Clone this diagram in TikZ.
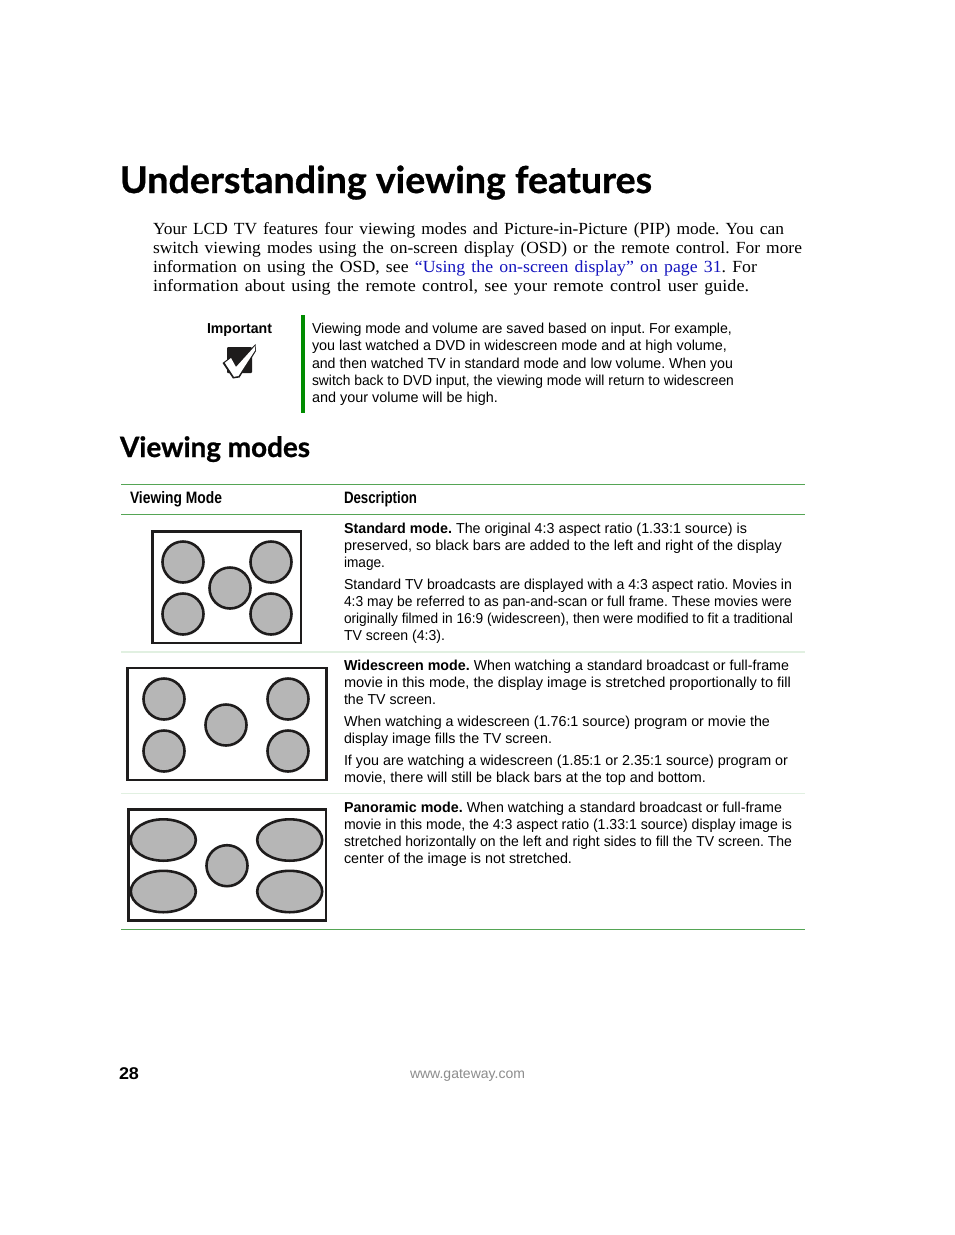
\documentclass[tikz,border=0pt]{standalone}
\usepackage{fontspec}
\usepackage{graphicx}
\setmainfont[WordSpace=1.4]{Liberation Serif}
\setsansfont{Liberation Sans}
\newfontfamily\titlefont[BoldFeatures={FakeBold=0.8}]{Lato}
\definecolor{linkblue}{RGB}{20,20,190}
\definecolor{rulegreen}{RGB}{85,165,85}
\definecolor{palegreen}{RGB}{225,240,225}
\definecolor{discgray}{RGB}{182,182,182}
\definecolor{inkblack}{RGB}{30,28,28}
\newcounter{lineno}
% \fitline[font]{x}{baseline}{right end}{text}
\newcommand{\fitline}[5][\bodyfont]{%
  \stepcounter{lineno}%
  \pgfmathsetmacro{\fitw}{#4-#2}%
  \node[txt] (line\arabic{lineno}) at (#2,#3) {#1\frenchspacing\resizebox{\fitw pt}{\height}{#5}};}
\newcommand{\bodyfont}{\sffamily\fontsize{14.4}{17}\selectfont}
\newcommand{\serfont}{\rmfamily\fontsize{17}{19}\selectfont}
\newcommand{\headfont}{\sffamily\bfseries\fontsize{16.5}{18}\selectfont}
\newcommand{\bsf}[1]{\textbf{#1}}
\tikzset{
  txt/.style={anchor=base west,inner sep=0pt,outer sep=0pt,text=black},
  frame/.style={draw=inkblack,line width=2.9pt,fill=white},
  disc/.style={draw=inkblack,line width=2.6pt,fill=discgray},
  headrule/.style={draw=rulegreen,line width=1pt},
  softrule/.style={draw=palegreen,line width=1.6pt}
}
\begin{document}
\begin{tikzpicture}[x=1pt,y=-1pt]
\useasboundingbox (0,0) rectangle (954,1235);
\fill[white] (0,0) rectangle (954,1235);
% headings
\fitline[\titlefont\bfseries\fontsize{37}{40}\selectfont]{120}{193}{652}{Understanding viewing features}
\fitline[\titlefont\bfseries\fontsize{28}{30}\selectfont]{120}{457}{310}{Viewing modes}
% intro
\fitline[\serfont]{153}{234}{784}{Your LCD TV features four viewing modes and Picture-in-Picture (PIP) mode. You can}
\fitline[\serfont]{153}{253}{802}{switch viewing modes using the on-screen display (OSD) or the remote control. For more}
\fitline[\serfont]{153}{272}{757}{information on using the OSD, see \textcolor{linkblue}{“Using the on-screen display” on page 31}. For}
\fitline[\serfont]{153}{291}{749}{information about using the remote control, see your remote control user guide.}
% important
\fitline{207}{333}{272}{\bsf{Important}}
\fill[green!55!black] (301,315) rectangle (305,413);
\fitline{312}{333}{732}{Viewing mode and volume are saved based on input. For example,}
\fitline{312}{350}{727}{you last watched a DVD in widescreen mode and at high volume,}
\fitline{312}{368}{733}{and then watched TV in standard mode and low volume. When you}
\fitline{312}{385}{734}{switch back to DVD input, the viewing mode will return to widescreen}
\fitline{312}{402}{498}{and your volume will be high.}
% check icon
\fill[inkblack,rounded corners=1pt] (227,347) rectangle (252,373);
\fill[inkblack] (222.5,363) -- (232,356) -- (236,364) -- (255.5,344) -- (256,351) -- (239.5,377.5) -- (233,378.5) -- cycle;
\fill[white] (224.8,362.8) -- (231,358) -- (236,367) -- (255,346) -- (255,350.5) -- (238.5,376) -- (234,376.8) -- cycle;
% table
\draw[headrule] (121,484) -- (805,484);
\draw[headrule] (121,514.5) -- (805,514.5);
\draw[softrule] (121,652) -- (805,652);
\draw[softrule] (121,793.5) -- (805,793.5);
\draw[headrule] (121,929.5) -- (805,929.5);
\fitline[\headfont]{130}{503}{222}{Viewing Mode}
\fitline[\headfont]{344}{503}{417}{Description}
% standard picture
\draw[frame] (152.2,531.2) rectangle (301,643);
\foreach \n/\cx/\cy in {a/183/562,b/271/562,c/183/614,d/271/614,e/230/588}
  \node[disc,circle,minimum size=41pt,inner sep=0pt] (std\n) at (\cx,\cy) {};
% widescreen picture
\draw[frame] (127.5,668) rectangle (326.5,780);
\foreach \n/\cx/\cy in {a/164/699,b/288/699,c/164/751,d/288/751,e/226/725}
  \node[disc,circle,minimum size=41pt,inner sep=0pt] (wid\n) at (\cx,\cy) {};
% panoramic picture
\draw[frame] (128.2,809.2) rectangle (326,920.5);
\foreach \n/\cx/\cy in {a/163.3/840,b/289.7/840,c/163.3/891.5,d/289.7/891.5}
  \draw[disc] (\cx,\cy) ellipse [x radius=32.5,y radius=20.7];
\node[disc,circle,minimum size=41pt,inner sep=0pt] (pane) at (227,865.7) {};
% standard text
\fitline{344}{533}{747}{\bsf{Standard mode.} The original 4:3 aspect ratio (1.33:1 source) is}
\fitline{344}{550}{782}{preserved, so black bars are added to the left and right of the display}
\fitline{344}{567}{385}{image.}
\fitline{344}{589}{792}{Standard TV broadcasts are displayed with a 4:3 aspect ratio. Movies in}
\fitline{344}{606}{792}{4:3 may be referred to as pan-and-scan or full frame. These movies were}
\fitline{344}{623}{793}{originally filmed in 16:9 (widescreen), then were modified to fit a traditional}
\fitline{344}{640}{445}{TV screen (4:3).}
% widescreen text
\fitline{344}{670}{789}{\bsf{Widescreen mode.} When watching a standard broadcast or full-frame}
\fitline{344}{687}{791}{movie in this mode, the display image is stretched proportionally to fill}
\fitline{344}{704}{436}{the TV screen.}
\fitline{344}{726}{770}{When watching a widescreen (1.76:1 source) program or movie the}
\fitline{344}{743}{552}{display image fills the TV screen.}
\fitline{344}{765}{788}{If you are watching a widescreen (1.85:1 or 2.35:1 source) program or}
\fitline{344}{782}{706}{movie, there will still be black bars at the top and bottom.}
% panoramic text
\fitline{344}{812}{782}{\bsf{Panoramic mode.} When watching a standard broadcast or full-frame}
\fitline{344}{829}{792}{movie in this mode, the 4:3 aspect ratio (1.33:1 source) display image is}
\fitline{344}{846}{792}{stretched horizontally on the left and right sides to fill the TV screen. The}
\fitline{344}{863}{572}{center of the image is not stretched.}
% footer
\fitline[\sffamily\bfseries\fontsize{17}{19}\selectfont]{119}{1079}{139}{28}
\fitline[\sffamily\fontsize{14}{16}\selectfont\color{black!45}]{410}{1078}{525}{www.gateway.com}
\end{tikzpicture}
\end{document}
